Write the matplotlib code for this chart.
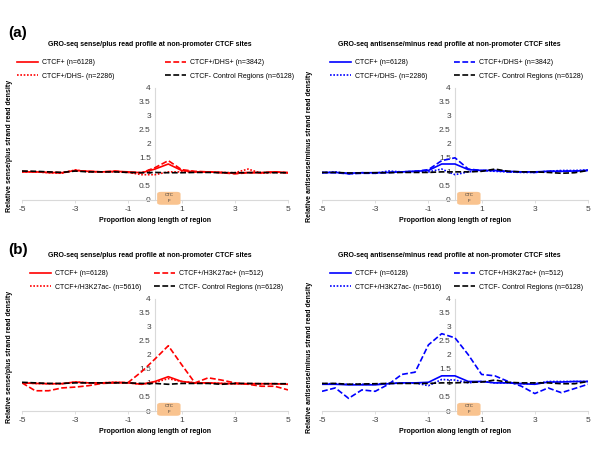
import matplotlib
matplotlib.use("Agg")
import matplotlib.pyplot as plt
from matplotlib.patches import FancyBboxPatch
from matplotlib.lines import Line2D

plt.rcParams['font.family'] = ['Liberation Sans', 'DejaVu Sans']

x = [-5, -4.5, -4, -3.5, -3, -2.5, -2, -1.5, -1, -0.5, 0, 0.5, 1, 1.5, 2, 2.5, 3, 3.5, 4, 4.5, 5]

# (a) sense / plus
a_sense_all = [1.0, 1.0, 0.98, 0.97, 1.05, 1.02, 1.0, 1.02, 1.0, 0.97, 1.1, 1.28, 1.05, 1.0, 1.0, 0.98, 0.95, 0.98, 0.97, 1.0, 0.97]
a_sense_dhs_pos = [1.02, 1.0, 0.98, 0.97, 1.05, 1.02, 1.0, 1.03, 0.98, 0.97, 1.15, 1.4, 1.08, 1.02, 1.0, 0.97, 0.93, 0.97, 0.97, 1.0, 0.97]
a_sense_dhs_neg = [1.0, 1.0, 0.97, 0.95, 1.07, 1.0, 1.0, 1.0, 0.98, 0.9, 0.9, 1.0, 1.0, 1.0, 1.0, 0.98, 0.97, 1.1, 0.95, 0.98, 0.97]
a_sense_ctrl = [1.03, 1.02, 1.0, 0.98, 1.03, 1.0, 1.0, 1.0, 0.98, 0.97, 0.98, 0.97, 0.97, 0.98, 0.98, 0.97, 0.97, 0.97, 0.98, 0.97, 0.97]

# (a) antisense / minus
a_anti_all = [0.97, 0.98, 0.95, 0.97, 0.97, 0.98, 1.0, 1.02, 1.05, 1.28, 1.28, 1.08, 1.05, 1.05, 1.02, 1.0, 1.0, 1.02, 1.02, 1.03, 1.05]
a_anti_dhs_pos = [0.98, 0.97, 0.93, 0.95, 0.95, 0.98, 1.0, 1.02, 1.08, 1.4, 1.5, 1.1, 1.05, 1.05, 1.0, 1.0, 0.98, 1.02, 1.02, 1.03, 1.05]
a_anti_dhs_neg = [0.97, 1.0, 0.93, 0.97, 0.95, 1.03, 1.0, 1.02, 1.0, 1.1, 0.9, 1.0, 1.05, 1.02, 1.0, 0.98, 0.98, 1.02, 1.05, 1.05, 1.07]
a_anti_ctrl = [0.98, 0.98, 0.96, 0.96, 0.97, 0.97, 0.98, 0.98, 0.98, 1.0, 1.0, 1.0, 1.02, 1.1, 1.02, 1.0, 1.0, 0.98, 0.95, 0.97, 1.05]

# (b) sense / plus
b_sense_all = [1.0, 0.98, 0.97, 0.97, 1.03, 1.0, 1.0, 1.02, 1.0, 0.95, 1.05, 1.22, 1.05, 1.0, 1.0, 0.98, 0.97, 0.97, 0.97, 0.97, 0.95]
b_sense_k27_pos = [1.0, 0.72, 0.72, 0.82, 0.85, 0.9, 0.98, 1.0, 1.02, 1.4, 1.85, 2.32, 1.65, 1.0, 1.18, 1.1, 1.0, 0.95, 0.88, 0.88, 0.75]
b_sense_k27_neg = [1.0, 0.98, 0.97, 0.97, 1.03, 1.0, 1.0, 1.02, 1.0, 0.95, 1.02, 1.15, 1.05, 1.0, 1.0, 0.98, 0.97, 0.97, 0.97, 0.97, 0.95]
b_sense_ctrl = [1.02, 1.0, 0.98, 0.98, 1.0, 1.0, 1.0, 1.0, 1.0, 0.98, 0.98, 0.95, 0.98, 0.98, 0.98, 0.95, 0.98, 0.98, 0.97, 0.97, 0.97]

# (b) antisense / minus
b_anti_all = [0.95, 0.95, 0.93, 0.93, 0.93, 0.97, 1.0, 1.0, 1.02, 1.25, 1.25, 1.05, 1.05, 1.0, 1.0, 0.97, 0.95, 1.03, 1.03, 1.05, 1.05]
b_anti_k27_pos = [0.7, 0.82, 0.45, 0.75, 0.7, 0.95, 1.3, 1.38, 2.35, 2.75, 2.6, 2.0, 1.3, 1.25, 1.05, 0.88, 0.62, 0.82, 0.65, 0.8, 0.95]
b_anti_k27_neg = [0.97, 0.97, 0.95, 0.95, 0.95, 0.98, 1.0, 1.0, 0.9, 1.12, 1.1, 1.0, 1.05, 1.0, 1.0, 0.97, 0.97, 1.05, 1.05, 1.05, 1.05]
b_anti_ctrl = [0.98, 0.98, 0.95, 0.96, 0.97, 0.98, 0.98, 0.98, 0.98, 1.0, 1.0, 1.02, 1.03, 1.1, 1.02, 1.0, 1.0, 1.0, 0.97, 0.97, 1.05]

xticks = [-5, -3, -1, 1, 3, 5]
yticks = [0, 0.5, 1, 1.5, 2, 2.5, 3, 3.5, 4]
ytick_labels = ['0', '0.5', '1', '1.5', '2', '2.5', '3', '3.5', '4']

title_sense = 'GRO-seq sense/plus read profile at non-promoter CTCF sites'
title_anti = 'GRO-seq antisense/minus read profile at non-promoter CTCF sites'
ylab_sense = 'Relative sense/plus strand read density'
ylab_anti = 'Relative antisense/minus strand read density'
xlab = 'Proportion along length of region'

labels_a = ['CTCF+ (n=6128)', 'CTCF+/DHS+ (n=3842)', 'CTCF+/DHS- (n=2286)',
            'CTCF- Control Regions (n=6128)']
labels_b = ['CTCF+ (n=6128)', 'CTCF+/H3K27ac+ (n=512)', 'CTCF+/H3K27ac- (n=5616)',
            'CTCF- Control Regions (n=6128)']

fig = plt.figure(figsize=(6, 4.5), dpi=100)
W, H = 600.0, 450.0
DASH = (0, (3.5, 1.5))
DOT = (0, (1, 1))


def panel(left_px, bottom_px, color, series, labels, title, ylab, col1_px, col2_px):
    ax = fig.add_axes([left_px / W, 1 - bottom_px / H, 266 / W, 112.5 / H])
    solid, dashed, dotted, ctrl = series
    ax.plot(x, solid, color=color, lw=1.2, ls='-')
    ax.plot(x, dotted, color=color, lw=1.2, ls=DOT)
    ax.plot(x, dashed, color=color, lw=1.2, ls=DASH)
    ax.plot(x, ctrl, color='black', lw=1.2, ls=DASH)
    ax.set_xlim(-5, 5)
    ax.set_ylim(0, 4)
    ax.set_xticks(xticks)
    ax.set_xticklabels([str(t) for t in xticks])
    ax.set_yticks(yticks)
    ax.set_yticklabels(ytick_labels)
    for s in ['top', 'right']:
        ax.spines[s].set_visible(False)
    ax.spines['left'].set_position(('data', 0))
    ax.spines['left'].set_color('#d9d9d9')
    ax.spines['bottom'].set_color('#d9d9d9')
    ax.spines['left'].set_zorder(0)
    ax.tick_params(axis='both', labelsize=6, colors='#d9d9d9', labelcolor='#404040',
                   length=2.5, width=0.6, pad=2)
    ax.tick_params(axis='y', length=0, pad=3)
    ax.set_xlabel(xlab, fontsize=5, fontweight='bold', labelpad=3)
    ax.set_ylabel(ylab, fontsize=5, fontweight='bold')
    ax.yaxis.set_label_coords(-0.035, 0.48)
    ax.set_title(title, fontsize=5, fontweight='bold', pad=30, x=0.48)

    # legend drawn as two columns placed separately
    col1 = [Line2D([], [], color=color, lw=1.2, ls='-'),
            Line2D([], [], color=color, lw=1.2, ls=DOT)]
    col2 = [Line2D([], [], color=color, lw=1.2, ls=DASH),
            Line2D([], [], color='black', lw=1.2, ls=DASH)]
    kw = dict(loc='lower left', frameon=False, fontsize=5, handlelength=3.0,
              handletextpad=0.6, labelspacing=0.9, borderaxespad=0, borderpad=0)
    y_anchor = 1.07
    l1 = ax.legend(col1, [labels[0], labels[2]],
                   bbox_to_anchor=((col1_px - left_px) / 266, y_anchor), **kw)
    ax.add_artist(l1)
    ax.legend(col2, [labels[1], labels[3]],
              bbox_to_anchor=((col2_px - left_px) / 266, y_anchor), **kw)

    # CTCF site marker
    box = FancyBboxPatch((0.08, -0.17), 0.88, 0.46, boxstyle='round,pad=0,rounding_size=0.15',
                         mutation_aspect=0.5, facecolor='#f9c38f', edgecolor='none',
                         clip_on=False, zorder=3)
    ax.add_patch(box)
    ax.text(0.52, 0.06, 'CTC\nF', fontsize=3.2, ha='center', va='center',
            color='#333333', linespacing=1.6, zorder=4, clip_on=False)
    return ax


panel(22, 200, 'red', [a_sense_all, a_sense_dhs_pos, a_sense_dhs_neg, a_sense_ctrl],
      labels_a, title_sense, ylab_sense, 17, 165)
panel(322, 200, 'blue', [a_anti_all, a_anti_dhs_pos, a_anti_dhs_neg, a_anti_ctrl],
      labels_a, title_anti, ylab_anti, 330, 454)
panel(22, 411, 'red', [b_sense_all, b_sense_k27_pos, b_sense_k27_neg, b_sense_ctrl],
      labels_b, title_sense, ylab_sense, 30, 154)
panel(322, 411, 'blue', [b_anti_all, b_anti_k27_pos, b_anti_k27_neg, b_anti_ctrl],
      labels_b, title_anti, ylab_anti, 330, 454)

fig.text(8 / W, 1 - 33 / H, '(a)', fontsize=11, fontweight='bold', va='center')
fig.text(8 / W, 1 - 250 / H, '(b)', fontsize=11, fontweight='bold', va='center')

fig.savefig('out.png', dpi=100)
